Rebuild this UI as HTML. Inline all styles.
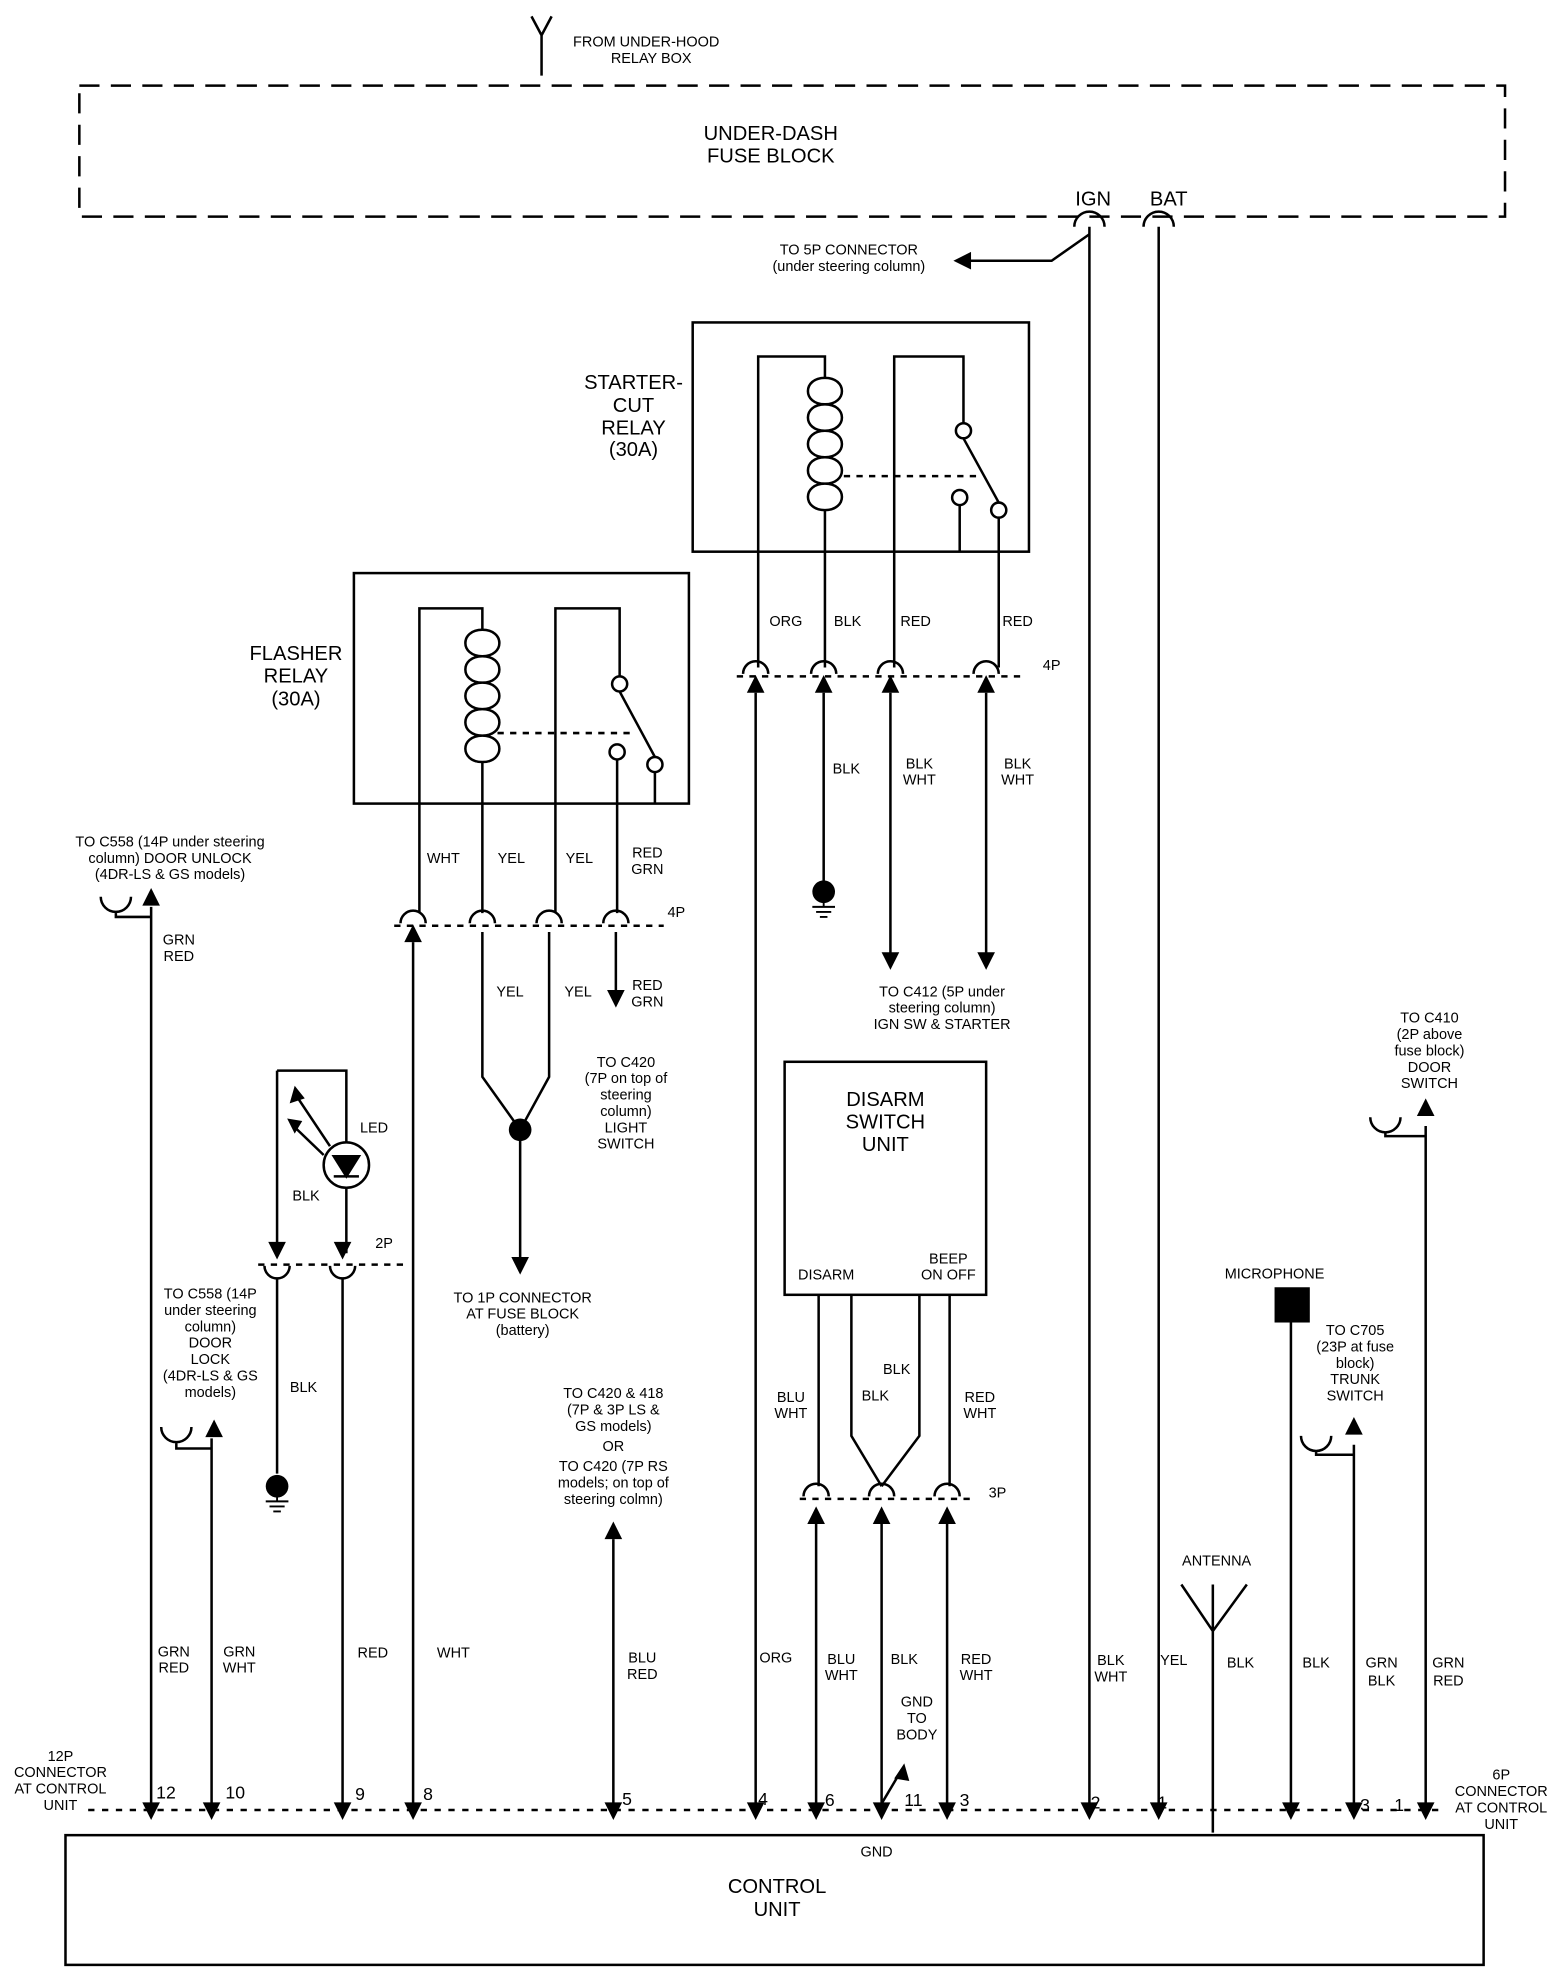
<!DOCTYPE html>
<html><head><meta charset="utf-8"><style>
html,body{margin:0;padding:0;background:#fff}
svg{display:block}
text{font-family:"Liberation Sans",sans-serif;fill:#000}
.s{font-size:11.5px}
.m{font-size:16px}
.p{font-size:14px}
</style></head><body>
<svg width="1568" height="1980" viewBox="0 0 1245 1572" preserveAspectRatio="none" xmlns="http://www.w3.org/2000/svg">
<defs>
<marker id="ad" viewBox="0 0 10 10" refX="5" refY="10" markerWidth="14" markerHeight="14" markerUnits="userSpaceOnUse" orient="auto"><path d="M0,0 L10,0 L5,10z"/></marker>
<path id="tu" d="M-7,14 L7,14 L0,0z"/>
<path id="td" d="M-7,-14 L7,-14 L0,0z"/>
</defs>
<g stroke="#000" stroke-width="2" fill="none">
<!-- top antenna -->
<path d="M430,28 V60 M422,13 L430,28 L438,13"/>
<!-- fuse block dashed -->
<rect x="63" y="68" width="1132" height="104" stroke-dasharray="16,9"/>
<!-- IGN BAT connectors -->
<path d="M853,180 a12,12 0 0 1 24,0 M908,180 a12,12 0 0 1 24,0"/>
<path d="M865,180 V1432 M920,180 V1432"/>
<path d="M865,186 L835,207 H768"/>
<!-- starter relay -->
<rect x="550" y="256" width="267" height="182"/>
<path d="M602,530 V283 H655 V300 M655,405 V530"/>
<path d="M655,300 c-18,0 -18,21 0,21 c-18,0 -18,21 0,21 c-18,0 -18,21 0,21 c-18,0 -18,21 0,21 c-18,0 -18,21 0,21 c18,0 18,-21 0,-21 c18,0 18,-21 0,-21 c18,0 18,-21 0,-21 c18,0 18,-21 0,-21 c18,0 18,-21 0,-21"/>
<path d="M710,530 V283 H765 V336"/>
<circle cx="765" cy="342" r="6"/><circle cx="762" cy="395" r="6"/><circle cx="793" cy="405" r="6"/>
<path d="M765,348 L793,399 M762,401 V438 M793,411 V530"/>
<path d="M670,378 H780" stroke-dasharray="5,5"/>
<!-- 4P starter -->
<path d="M590,535 a10,10 0 0 1 20,0 M644,535 a10,10 0 0 1 20,0 M697,535 a10,10 0 0 1 20,0 M773,535 a10,10 0 0 1 20,0"/>
<path d="M585,537 H815" stroke-dasharray="5,5"/>
<path d="M600,550 V1432 M654,550 V700 M707,550 V758 M783,550 V758"/>
<!-- flasher relay -->
<rect x="281" y="455" width="266" height="183"/>
<path d="M333,725 V483 H383 V500 M383,605 V725"/>
<path d="M383,500 c-18,0 -18,21 0,21 c-18,0 -18,21 0,21 c-18,0 -18,21 0,21 c-18,0 -18,21 0,21 c-18,0 -18,21 0,21 c18,0 18,-21 0,-21 c18,0 18,-21 0,-21 c18,0 18,-21 0,-21 c18,0 18,-21 0,-21 c18,0 18,-21 0,-21"/>
<path d="M441,725 V483 H492 V537"/>
<circle cx="492" cy="543" r="6"/><circle cx="490" cy="597" r="6"/><circle cx="520" cy="607" r="6"/>
<path d="M492,549 L520,601 M520,613 V638 M490,603 V725"/>
<path d="M395,582 H505" stroke-dasharray="5,5"/>
<path d="M318,733 a10,10 0 0 1 20,0 M373,733 a10,10 0 0 1 20,0 M426,733 a10,10 0 0 1 20,0 M479,733 a10,10 0 0 1 20,0"/>
<path d="M313,735 H527" stroke-dasharray="5,5"/>
<path d="M328,748 V1432 M383,740 V855 L413,897 L436,855 V740 M413,897 V1000 M489,740 V788"/>
<!-- left door unlock -->
<path d="M80,712 a12,12 0 0 0 24,0 M92,724 V728 H120 M120,720 V1432"/>
<path d="M128,1133 a12,12 0 0 0 24,0 M140,1145 V1150 H168 M168,1142 V1432"/>
<!-- LED -->
<path d="M220,850 H275 V907 M275,943 V995 M220,850 V995"/>
<circle cx="275" cy="925" r="18"/>
<path d="M265,918 H285 L275,934 Z M265,934 H285" fill="#000"/>
<path d="M262,910 L234,868 M257,917 L232,893"/>
<path d="M210,1005 a10,10 0 0 0 20,0 M262,1005 a10,10 0 0 0 20,0"/>
<path d="M205,1004 H320" stroke-dasharray="5,5"/>
<path d="M220,1015 V1170 M272,1015 V1432"/>
<!-- middle double arrow -->
<path d="M487,1222 V1432"/>
<!-- disarm -->
<rect x="623" y="843" width="160" height="185"/>
<path d="M650,1028 V1180 M676,1028 V1140 L700,1180 M730,1028 V1140 L700,1180 M754,1028 V1180"/>
<path d="M638,1188 a10,10 0 0 1 20,0 M690,1188 a10,10 0 0 1 20,0 M742,1188 a10,10 0 0 1 20,0"/>
<path d="M635,1190 H770" stroke-dasharray="5,5"/>
<path d="M648,1210 V1432 M700,1210 V1432 M752,1210 V1432"/>
<path d="M700,1432 L716,1405"/>
<!-- antenna right -->
<path d="M938,1258 L963,1295 L990,1258 M963,1258 V1455"/>
<path d="M1025,1050 V1432"/>
<path d="M1033,1140 a12,12 0 0 0 24,0 M1045,1152 V1155 H1075 M1075,1147 V1432"/>
<path d="M1088,887 a12,12 0 0 0 24,0 M1100,899 V902 H1132 M1132,894 V1432"/>
<!-- pins dashed -->
<path d="M70,1437 H1145" stroke-dasharray="5,6"/>
<!-- control unit -->
<rect x="52" y="1457" width="1126" height="103"/>
</g>
<!-- arrowheads up -->
<g fill="#000">
<use href="#tu" x="600" y="536"/><use href="#tu" x="654" y="536"/><use href="#tu" x="707" y="536"/><use href="#tu" x="783" y="536"/>
<use href="#td" x="707" y="770"/><use href="#td" x="783" y="770"/>
<use href="#tu" x="328" y="734"/><use href="#td" x="489" y="800"/><use href="#td" x="413" y="1012"/>
<use href="#tu" x="120" y="705"/><use href="#tu" x="170" y="1127"/>
<use href="#td" x="220" y="1000"/><use href="#td" x="272" y="1000"/>
<use href="#tu" x="487" y="1208"/>
<use href="#tu" x="648" y="1196"/><use href="#tu" x="700" y="1196"/><use href="#tu" x="752" y="1196"/>
<use href="#tu" x="1075" y="1125"/><use href="#tu" x="1132" y="872"/>
<path d="M757,207 L771,200 L771,214z"/>
<path d="M718,1400 L710,1412 L722,1414z"/>
<path d="M234,862 L230,876 L242,872z M228,888 L234,900 L240,890z"/>
<circle cx="654" cy="708" r="9"/><circle cx="413" cy="897" r="9"/><circle cx="220" cy="1180" r="9"/>
<rect x="1012" y="1022" width="28" height="28"/>
<!-- bottom arrows -->
<use href="#td" x="120" y="1445"/><use href="#td" x="168" y="1445"/><use href="#td" x="272" y="1445"/><use href="#td" x="328" y="1445"/>
<use href="#td" x="487" y="1445"/><use href="#td" x="600" y="1445"/><use href="#td" x="648" y="1445"/><use href="#td" x="700" y="1445"/>
<use href="#td" x="752" y="1445"/><use href="#td" x="865" y="1445"/><use href="#td" x="920" y="1445"/><use href="#td" x="1025" y="1445"/>
<use href="#td" x="1075" y="1445"/><use href="#td" x="1132" y="1445"/>
</g>
<g stroke="#000" stroke-width="1.5" fill="none">
<path d="M654,716 V720 M645,720 H663 M648,724 H660 M651,728 H657"/>
<path d="M220,1188 V1192 M211,1192 H229 M214,1196 H226 M217,1200 H223"/>
</g>
<!-- texts -->
<g class="s">
<text x="455" y="37">FROM UNDER-HOOD</text><text x="485" y="50">RELAY BOX</text>
<text x="674" y="202" text-anchor="middle">TO 5P CONNECTOR</text><text x="674" y="215" text-anchor="middle">(under steering column)</text>
<text x="624" y="497" text-anchor="middle">ORG</text><text x="673" y="497" text-anchor="middle">BLK</text><text x="727" y="497" text-anchor="middle">RED</text><text x="808" y="497" text-anchor="middle">RED</text>
<text x="828" y="532">4P</text>
<text x="672" y="614" text-anchor="middle">BLK</text>
<text x="730" y="610" text-anchor="middle">BLK</text><text x="730" y="623" text-anchor="middle">WHT</text>
<text x="808" y="610" text-anchor="middle">BLK</text><text x="808" y="623" text-anchor="middle">WHT</text>
<text x="748" y="791" text-anchor="middle">TO C412 (5P under</text><text x="748" y="804" text-anchor="middle">steering column)</text><text x="748" y="817" text-anchor="middle">IGN SW &amp; STARTER</text>
<text x="352" y="685" text-anchor="middle">WHT</text><text x="406" y="685" text-anchor="middle">YEL</text><text x="460" y="685" text-anchor="middle">YEL</text>
<text x="514" y="681" text-anchor="middle">RED</text><text x="514" y="694" text-anchor="middle">GRN</text>
<text x="530" y="728">4P</text>
<text x="405" y="791" text-anchor="middle">YEL</text><text x="459" y="791" text-anchor="middle">YEL</text>
<text x="514" y="786" text-anchor="middle">RED</text><text x="514" y="799" text-anchor="middle">GRN</text>
<text x="497" y="847" text-anchor="middle">TO C420</text><text x="497" y="860" text-anchor="middle">(7P on top of</text><text x="497" y="873" text-anchor="middle">steering</text><text x="497" y="886" text-anchor="middle">column)</text><text x="497" y="899" text-anchor="middle">LIGHT</text><text x="497" y="912" text-anchor="middle">SWITCH</text>
<text x="415" y="1034" text-anchor="middle">TO 1P CONNECTOR</text><text x="415" y="1047" text-anchor="middle">AT FUSE BLOCK</text><text x="415" y="1060" text-anchor="middle">(battery)</text>
<text x="135" y="672" text-anchor="middle">TO C558 (14P under steering</text><text x="135" y="685" text-anchor="middle">column) DOOR UNLOCK</text><text x="135" y="698" text-anchor="middle">(4DR-LS &amp; GS models)</text>
<text x="142" y="750" text-anchor="middle">GRN</text><text x="142" y="763" text-anchor="middle">RED</text>
<text x="167" y="1031" text-anchor="middle">TO C558 (14P</text><text x="167" y="1044" text-anchor="middle">under steering</text><text x="167" y="1057" text-anchor="middle">column)</text><text x="167" y="1070" text-anchor="middle">DOOR</text><text x="167" y="1083" text-anchor="middle">LOCK</text><text x="167" y="1096" text-anchor="middle">(4DR-LS &amp; GS</text><text x="167" y="1109" text-anchor="middle">models)</text>
<text x="297" y="899" text-anchor="middle">LED</text><text x="243" y="953" text-anchor="middle">BLK</text><text x="305" y="991" text-anchor="middle">2P</text>
<text x="241" y="1105" text-anchor="middle">BLK</text>
<text x="487" y="1110" text-anchor="middle">TO C420 &amp; 418</text><text x="487" y="1123" text-anchor="middle">(7P &amp; 3P LS &amp;</text><text x="487" y="1136" text-anchor="middle">GS models)</text><text x="487" y="1152" text-anchor="middle">OR</text><text x="487" y="1168" text-anchor="middle">TO C420 (7P RS</text><text x="487" y="1181" text-anchor="middle">models; on top of</text><text x="487" y="1194" text-anchor="middle">steering colmn)</text>
<text x="656" y="1016" text-anchor="middle">DISARM</text><text x="753" y="1003" text-anchor="middle">BEEP</text><text x="753" y="1016" text-anchor="middle">ON OFF</text>
<text x="628" y="1113" text-anchor="middle">BLU</text><text x="628" y="1126" text-anchor="middle">WHT</text>
<text x="712" y="1091" text-anchor="middle">BLK</text><text x="695" y="1112" text-anchor="middle">BLK</text>
<text x="778" y="1113" text-anchor="middle">RED</text><text x="778" y="1126" text-anchor="middle">WHT</text>
<text x="792" y="1189" text-anchor="middle">3P</text>
<text x="966" y="1243" text-anchor="middle">ANTENNA</text>
<text x="1012" y="1015" text-anchor="middle">MICROPHONE</text>
<text x="1076" y="1060" text-anchor="middle">TO C705</text><text x="1076" y="1073" text-anchor="middle">(23P at fuse</text><text x="1076" y="1086" text-anchor="middle">block)</text><text x="1076" y="1099" text-anchor="middle">TRUNK</text><text x="1076" y="1112" text-anchor="middle">SWITCH</text>
<text x="1135" y="812" text-anchor="middle">TO C410</text><text x="1135" y="825" text-anchor="middle">(2P above</text><text x="1135" y="838" text-anchor="middle">fuse block)</text><text x="1135" y="851" text-anchor="middle">DOOR</text><text x="1135" y="864" text-anchor="middle">SWITCH</text>
<text x="138" y="1315" text-anchor="middle">GRN</text><text x="138" y="1328" text-anchor="middle">RED</text>
<text x="190" y="1315" text-anchor="middle">GRN</text><text x="190" y="1328" text-anchor="middle">WHT</text>
<text x="296" y="1316" text-anchor="middle">RED</text><text x="360" y="1316" text-anchor="middle">WHT</text>
<text x="510" y="1320" text-anchor="middle">BLU</text><text x="510" y="1333" text-anchor="middle">RED</text>
<text x="616" y="1320" text-anchor="middle">ORG</text>
<text x="668" y="1321" text-anchor="middle">BLU</text><text x="668" y="1334" text-anchor="middle">WHT</text>
<text x="718" y="1321" text-anchor="middle">BLK</text>
<text x="775" y="1321" text-anchor="middle">RED</text><text x="775" y="1334" text-anchor="middle">WHT</text>
<text x="728" y="1355" text-anchor="middle">GND</text><text x="728" y="1368" text-anchor="middle">TO</text><text x="728" y="1381" text-anchor="middle">BODY</text>
<text x="882" y="1322" text-anchor="middle">BLK</text><text x="882" y="1335" text-anchor="middle">WHT</text>
<text x="932" y="1322" text-anchor="middle">YEL</text><text x="985" y="1324" text-anchor="middle">BLK</text>
<text x="1045" y="1324" text-anchor="middle">BLK</text>
<text x="1097" y="1324" text-anchor="middle">GRN</text><text x="1097" y="1338" text-anchor="middle">BLK</text>
<text x="1150" y="1324" text-anchor="middle">GRN</text><text x="1150" y="1338" text-anchor="middle">RED</text>
<text x="48" y="1398" text-anchor="middle">12P</text><text x="48" y="1411" text-anchor="middle">CONNECTOR</text><text x="48" y="1424" text-anchor="middle">AT CONTROL</text><text x="48" y="1437" text-anchor="middle">UNIT</text>
<text x="1192" y="1413" text-anchor="middle">6P</text><text x="1192" y="1426" text-anchor="middle">CONNECTOR</text><text x="1192" y="1439" text-anchor="middle">AT CONTROL</text><text x="1192" y="1452" text-anchor="middle">UNIT</text>
<text x="696" y="1474" text-anchor="middle">GND</text>
</g>
<g class="p">
<text x="124" y="1428">12</text><text x="179" y="1428">10</text><text x="282" y="1429">9</text><text x="336" y="1429">8</text>
<text x="494" y="1433">5</text><text x="602" y="1433">4</text><text x="655" y="1434">6</text><text x="718" y="1434">11</text>
<text x="762" y="1434">3</text><text x="866" y="1436">2</text><text x="919" y="1436">1</text><text x="1080" y="1438">3</text><text x="1107" y="1438">1</text>
</g>
<g class="m">
<text x="612" y="111" text-anchor="middle">UNDER-DASH</text><text x="612" y="129" text-anchor="middle">FUSE BLOCK</text>
<text x="868" y="163" text-anchor="middle">IGN</text><text x="928" y="163" text-anchor="middle">BAT</text>
<text x="503" y="309" text-anchor="middle">STARTER-</text><text x="503" y="327" text-anchor="middle">CUT</text><text x="503" y="345" text-anchor="middle">RELAY</text><text x="503" y="362" text-anchor="middle">(30A)</text>
<text x="235" y="524" text-anchor="middle">FLASHER</text><text x="235" y="542" text-anchor="middle">RELAY</text><text x="235" y="560" text-anchor="middle">(30A)</text>
<text x="703" y="878" text-anchor="middle">DISARM</text><text x="703" y="896" text-anchor="middle">SWITCH</text><text x="703" y="914" text-anchor="middle">UNIT</text>
<text x="617" y="1503" text-anchor="middle">CONTROL</text><text x="617" y="1521" text-anchor="middle">UNIT</text>
</g>
</svg>
</body></html>
